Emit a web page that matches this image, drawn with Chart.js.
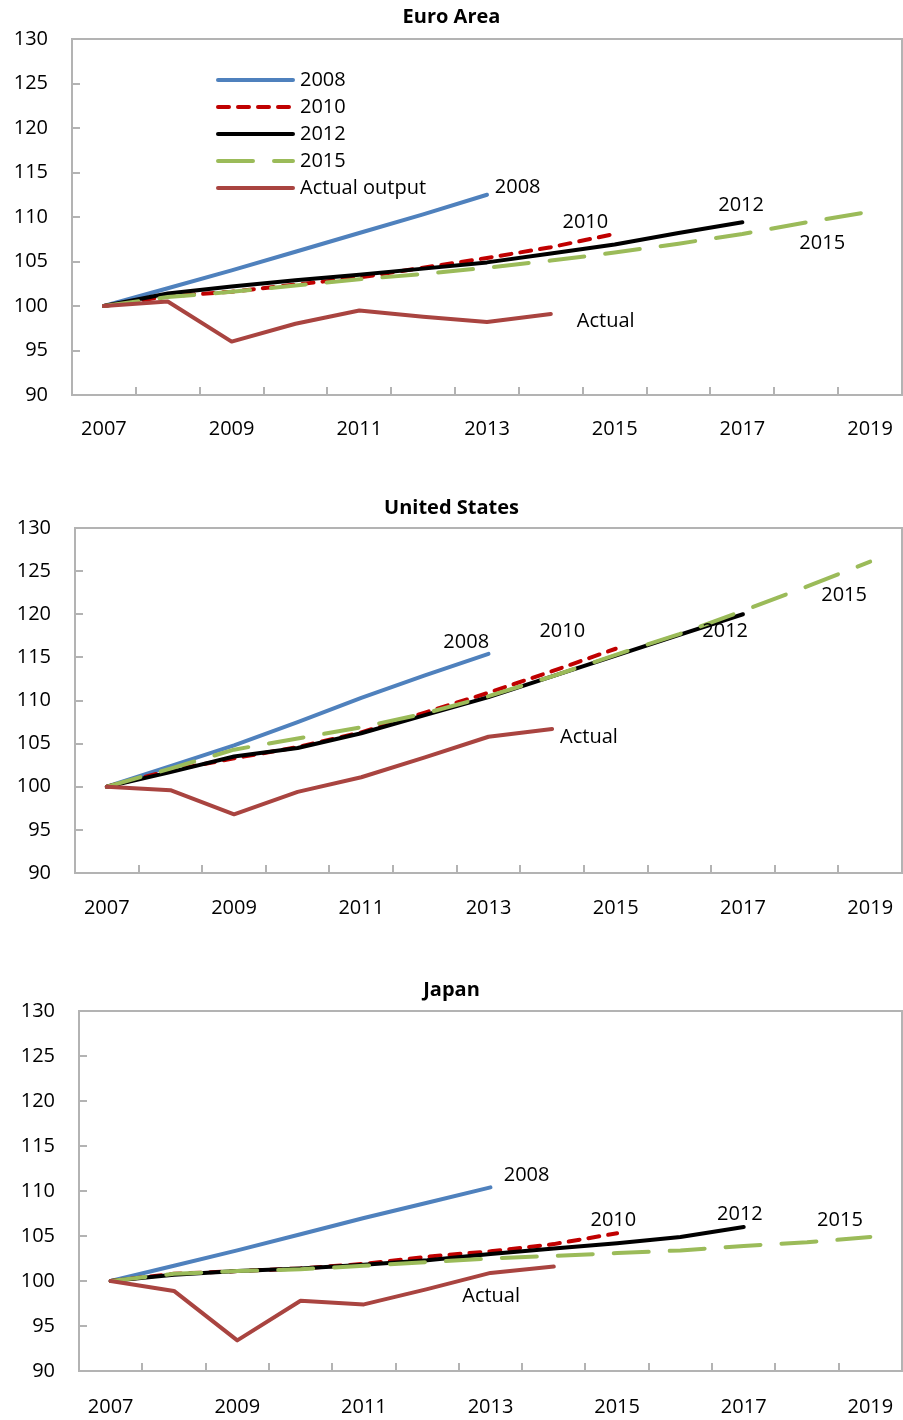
<!DOCTYPE html>
<html><head><meta charset="utf-8">
<script src="https://cdn.jsdelivr.net/npm/chart.js@4.4.0/dist/chart.umd.min.js"></script>
<style>
html,body{margin:0;padding:0;background:#fff;overflow:hidden;}
.panel{position:absolute;left:0;width:903px;}
.panel canvas{display:block;}
</style></head><body>
<div class="panel" style="top:0;height:450px"><canvas id="c1"></canvas></div>
<div class="panel" style="top:490px;height:440px"><canvas id="c2"></canvas></div>
<div class="panel" style="top:970px;height:450px"><canvas id="c3"></canvas></div>
<script>
// ---------- data ----------
const YEARS = ['2007','2008','2009','2010','2011','2012','2013','2014','2015','2016','2017','2018','2019'];
const X_TICK_LABELS = ['2007','','2009','','2011','','2013','','2015','','2017','','2019'];
const SERIES_NAMES = ['2008','2010','2012','2015','Actual output'];

const euro2008   = [100, 102.0, 104.0, 106.1, 108.2, 110.3, 112.5];
const euro2010   = [100, 101.1, 101.6, 102.4, 103.2, 104.3, 105.4, 106.6, 108.1];
const euro2012   = [100, 101.4, 102.2, 102.9, 103.5, 104.2, 104.9, 105.9, 106.9, 108.2, 109.4];
const euro2015   = [100, 101.0, 101.6, 102.3, 103.0, 103.6, 104.3, 105.1, 106.0, 107.0, 108.1, 109.4, 110.6];
const euroActual = [100, 100.5, 96.0, 98.0, 99.5, 98.8, 98.2, 99.1];

const us2008   = [100, 102.4, 104.8, 107.5, 110.3, 112.9, 115.4];
const us2010   = [100, 101.9, 103.3, 104.6, 106.3, 108.6, 110.9, 113.4, 116.0];
const us2012   = [100, 101.7, 103.5, 104.5, 106.2, 108.3, 110.4, 112.8, 115.2, 117.6, 120.0];
const us2015   = [100, 102.1, 104.3, 105.6, 106.9, 108.5, 110.5, 112.8, 115.3, 117.7, 120.4, 123.2, 126.1];
const usActual = [100, 99.6, 96.8, 99.4, 101.1, 103.4, 105.8, 106.7];

const jp2008   = [100, 101.7, 103.4, 105.2, 107.0, 108.7, 110.4];
const jp2010   = [100, 100.8, 101.1, 101.4, 101.9, 102.7, 103.3, 104.1, 105.3];
const jp2012   = [100, 100.7, 101.1, 101.4, 101.8, 102.3, 103.0, 103.6, 104.2, 104.9, 106.0];
const jp2015   = [100, 100.8, 101.1, 101.3, 101.7, 102.1, 102.5, 102.8, 103.1, 103.4, 103.9, 104.3, 104.9];
const jpActual = [100, 98.9, 93.4, 97.8, 97.4, 99.1, 100.9, 101.6];

// ---------- styles / layout ----------
const STYLES = [
  {color:'#4f81bd', dash:[]},
  {color:'#c00000', dash:[11,9]},
  {color:'#000000', dash:[]},
  {color:'#9bbb59', dash:[35,21]},
  {color:'#a94440', dash:[]}
];
const LINE_W = 4;

const PANELS = [
  {id:'c1', title:'Euro Area', series:[euro2008,euro2010,euro2012,euro2015,euroActual],
   height:450, plotTop:39, plotBottom:395, plotLeft:72, titleY:17, xPad:22, legend:{x:218, x2:293, tx:300, y:80, dy:27},
   notes:[{t:'2008',x:6.48,y:113.3},{t:'2010',x:7.54,y:109.4},{t:'2012',x:9.98,y:111.3},{t:'2015',x:11.25,y:107.0},{t:'Actual',x:7.86,y:98.3}]},
  {id:'c2', title:'United States', series:[us2008,us2010,us2012,us2015,usActual],
   height:440, plotTop:38, plotBottom:383, plotLeft:75, titleY:18, xPad:23, legend:null,
   notes:[{t:'2008',x:5.65,y:116.7},{t:'2010',x:7.16,y:118.0},{t:'2012',x:9.72,y:118.0},{t:'2015',x:11.59,y:122.2},{t:'Actual',x:7.58,y:105.7}]},
  {id:'c3', title:'Japan', series:[jp2008,jp2010,jp2012,jp2015,jpActual],
   height:450, plotTop:41, plotBottom:401, plotLeft:79, titleY:20, xPad:24, legend:null,
   notes:[{t:'2008',x:6.57,y:111.8},{t:'2010',x:7.94,y:106.7},{t:'2012',x:9.94,y:107.4},{t:'2015',x:11.52,y:106.7},{t:'Actual',x:6.01,y:98.3}]}
];

const FONT = '"Open Sans", "DejaVu Sans", sans-serif';
Chart.defaults.font.family = FONT;
Chart.defaults.font.size = 20;
Chart.defaults.color = '#000';

const deco = {
  id:'deco',
  beforeDatasetsDraw(chart){
    const {ctx, chartArea:a, scales:{x, y}} = chart;
    ctx.save();
    ctx.strokeStyle = '#b3b3b3';
    ctx.lineWidth = 2;
    ctx.strokeRect(a.left, a.top, a.right - a.left, a.bottom - a.top);
    ctx.beginPath();
    y.ticks.forEach(t => {
      const py = Math.round(y.getPixelForValue(t.value));
      ctx.moveTo(a.left, py); ctx.lineTo(a.left + 8, py);
    });
    for (let i = 0; i < YEARS.length - 1; i++) {
      const px = Math.round((x.getPixelForValue(i) + x.getPixelForValue(i + 1)) / 2);
      ctx.moveTo(px, a.bottom); ctx.lineTo(px, a.bottom - 8);
    }
    ctx.stroke();
    ctx.restore();
  },
  afterDraw(chart){
    const cfg = chart.options.plugins.deco;
    const {ctx, scales:{x, y}} = chart;
    ctx.save();
    // title
    ctx.fillStyle = '#000';
    ctx.textAlign = 'center';
    ctx.textBaseline = 'middle';
    ctx.font = 'bold 20px ' + FONT;
    ctx.fillText(cfg.title, chart.width / 2, cfg.titleY);
    // notes
    ctx.font = '20px ' + FONT;
    cfg.notes.forEach(n => {
      ctx.fillText(n.t, x.getPixelForValue(n.x), y.getPixelForValue(n.y));
    });
    // legend
    if (cfg.legend) {
      const L = cfg.legend;
      SERIES_NAMES.forEach((name, i) => {
        const yy = L.y + i * L.dy;
        ctx.beginPath();
        ctx.strokeStyle = STYLES[i].color;
        ctx.lineWidth = LINE_W;
        ctx.lineCap = 'round';
        ctx.setLineDash(STYLES[i].dash);
        ctx.moveTo(L.x, yy); ctx.lineTo(L.x2, yy);
        ctx.stroke();
        ctx.setLineDash([]);
        ctx.textAlign = 'left';
        ctx.fillStyle = '#000';
        ctx.fillText(name, L.tx, yy);
      });
    }
    ctx.restore();
  }
};

PANELS.forEach(p => {
  const datasets = p.series.map((vals, i) => ({
    label: SERIES_NAMES[i],
    data: vals,
    borderColor: STYLES[i].color,
    backgroundColor: STYLES[i].color,
    borderDash: STYLES[i].dash,
    borderWidth: LINE_W,
    borderCapStyle: 'round',
    borderJoinStyle: 'round',
    pointRadius: 0,
    tension: 0,
    fill: false,
    order: p.series.length - 1 - i
  }));
  new Chart(document.getElementById(p.id), {
    type: 'line',
    data: {labels: YEARS, datasets},
    options: {
      responsive: true,
      maintainAspectRatio: false,
      animation: false,
      events: [],
      layout: {padding: {top: p.plotTop, right: 1, left: 0, bottom: 0}},
      plugins: {
        legend: {display: false},
        tooltip: {enabled: false},
        title: {display: false},
        deco: {title: p.title, titleY: p.titleY, legend: p.legend, notes: p.notes}
      },
      scales: {
        x: {
          type: 'category',
          offset: true,
          grid: {display: true, drawOnChartArea: false, drawTicks: true, tickLength: p.xPad, color: 'rgba(0,0,0,0)'},
          border: {display: false},
          ticks: {autoSkip: false, maxRotation: 0, padding: 0,
                  callback: (v, i) => X_TICK_LABELS[i]},
          afterFit: s => { s.height = p.height - p.plotBottom; }
        },
        y: {
          min: 90, max: 130,
          grid: {display: false, drawTicks: false},
          border: {display: false},
          ticks: {stepSize: 5, padding: 24},
          afterFit: s => { s.width = p.plotLeft; }
        }
      }
    },
    plugins: [deco]
  });
});
</script>
</body></html>
